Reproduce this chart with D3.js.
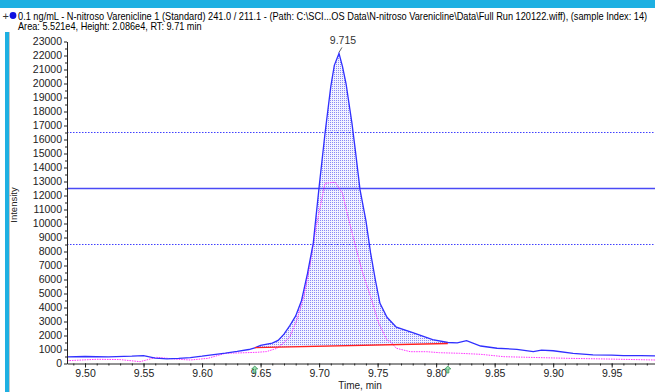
<!DOCTYPE html>
<html>
<head>
<meta charset="utf-8">
<script src="https://cdn.jsdelivr.net/npm/d3@7"></script>
<style>
  body { margin: 0; background: #fff; }
  svg text { font-family: "Liberation Sans Narrow", "Arial Narrow", "Liberation Sans", sans-serif; }
</style>
</head>
<body>
<svg id="chart" width="655" height="392"></svg>
<script>
// XIC trace (blue), second trace (pink), integration baseline (red)
var blueTime = [9.4846, 9.50, 9.52, 9.54, 9.55, 9.56, 9.57, 9.58, 9.59, 9.60, 9.61, 9.62, 9.63, 9.64, 9.645,
  9.65, 9.66, 9.665, 9.67, 9.675, 9.68, 9.685, 9.69, 9.695, 9.70, 9.705, 9.71, 9.713, 9.717, 9.72, 9.723,
  9.728, 9.731, 9.735, 9.74, 9.744, 9.748, 9.752, 9.758, 9.766, 9.78, 9.797, 9.81, 9.818, 9.826, 9.838,
  9.852, 9.869, 9.883, 9.89, 9.90, 9.917, 9.934, 9.95, 9.96, 9.975, 9.987];
var blueIntensity = [480, 500, 480, 520, 560, 380, 330, 360, 420, 520, 640, 740, 860, 1000, 1120,
  1300, 1450, 1650, 2100, 2700, 3400, 4500, 6400, 8600, 12600, 16400, 19800, 21300, 22150, 21200, 20000,
  17200, 15200, 12400, 10200, 7900, 6000, 4300, 3300, 2600, 2200, 1700, 1500, 1480, 1630, 1250,
  1090, 1010, 850, 950, 910, 730, 610, 600, 560, 560, 540];

var pinkTime = [9.4846, 9.51, 9.53, 9.547, 9.561, 9.58, 9.59, 9.605, 9.62, 9.633, 9.647, 9.655, 9.664, 9.67,
  9.675, 9.681, 9.687, 9.692, 9.697, 9.701, 9.705, 9.7137, 9.720, 9.724, 9.729, 9.7365, 9.744, 9.751,
  9.758, 9.761, 9.766, 9.778, 9.792, 9.803, 9.82, 9.838, 9.858, 9.878, 9.912, 9.946, 9.987];
var pinkIntensity = [200, 300, 280, 130, 440, 300, 250, 370, 730, 760, 800, 850, 1086, 1500,
  1900, 3107, 4771, 6914, 9536, 11200, 12870, 12950, 12157, 10729, 9057, 6679, 4771, 2871,
  1679, 1560, 1086, 843, 843, 771, 729, 657, 486, 443, 371, 321, 250];

var baselineTime = [9.645, 9.81];
var baselineIntensity = [1130, 1430];

var thresholdSolid = [12500];
var thresholdDotted = [16500, 8500];

var peakRT = 9.717, peakLabel = "9.715";
var xTickLabels = [9.50, 9.55, 9.60, 9.65, 9.70, 9.75, 9.80, 9.85, 9.90, 9.95];

var titleLine1 = "0.1 ng/mL - N-nitroso Varenicline 1 (Standard) 241.0 / 211.1 - (Path: C:\\SCI...OS Data\\N-nitroso Varenicline\\Data\\Full Run 120122.wiff), (sample Index: 14)";
var titleLine2 = "Area: 5.521e4, Height: 2.086e4, RT: 9.71 min";

var svg = d3.select("#chart");

// window frame
svg.append("rect").attr("x", 0).attr("y", 0).attr("width", 655).attr("height", 8).attr("fill", "#1eb0e2");
svg.append("rect").attr("x", 5).attr("y", 32).attr("width", 4).attr("height", 360).attr("fill", "#1eb0e2");
svg.append("line").attr("x1", 9.5).attr("x2", 9.5).attr("y1", 32).attr("y2", 392).attr("stroke", "#c8c8c8");

var x = d3.scaleLinear().domain([9.4846, 9.987]).range([67, 655]);
var y = d3.scaleLinear().domain([0, 23000]).range([363.5, 41.5]);

// header: squeeze each line horizontally to the width it has in the original
svg.append("text").attr("x", 2.5).attr("y", 19.5).attr("font-size", 11).attr("fill", "#333").text("+");
svg.append("circle").attr("cx", 13).attr("cy", 15.5).attr("r", 3.4).attr("fill", "#1010e0");

function squeezedText(str, x0, y0, width) {
  var t = svg.append("text").attr("font-size", 10).attr("fill", "#000").text(str);
  var natural = t.node().getComputedTextLength();
  var sx = Math.min(1, width / natural);
  t.attr("transform", "translate(" + x0 + "," + y0 + ") scale(" + sx + ",1)");
  return t;
}
squeezedText(titleLine1, 18, 19.5, 630);
squeezedText(titleLine2, 18, 30, 184);

// dotted fill pattern
var defs = svg.append("defs");
var pat = defs.append("pattern").attr("id", "dots").attr("patternUnits", "userSpaceOnUse")
  .attr("width", 2).attr("height", 2);
pat.append("rect").attr("width", 2).attr("height", 2).attr("fill", "#f2f2ff");
pat.append("rect").attr("width", 1).attr("height", 1).attr("fill", "#8a8af5");

function interp(ts, vs, t) {
  for (var i = 1; i < ts.length; i++) {
    if (t <= ts[i]) {
      var f = (t - ts[i - 1]) / (ts[i] - ts[i - 1]);
      return vs[i - 1] + f * (vs[i] - vs[i - 1]);
    }
  }
  return vs[vs.length - 1];
}

var blueData = blueTime.map(function(t, i) { return { t: t, v: blueIntensity[i] }; });
var pinkData = pinkTime.map(function(t, i) { return { t: t, v: pinkIntensity[i] }; });

// integrated area between trace and baseline
var t0 = baselineTime[0], t1 = baselineTime[1];
var areaData = [{ t: t0, v: interp(blueTime, blueIntensity, t0) }]
  .concat(blueData.filter(function(d) { return d.t > t0 && d.t < t1; }))
  .concat([{ t: t1, v: interp(blueTime, blueIntensity, t1) }]);

svg.append("path")
  .datum(areaData)
  .attr("fill", "url(#dots)")
  .attr("d", d3.area()
    .x(function(d) { return x(d.t); })
    .y0(function(d) { return y(interp(baselineTime, baselineIntensity, d.t)); })
    .y1(function(d) { return y(d.v); }));

// threshold lines
svg.selectAll(".thr-solid").data(thresholdSolid).enter().append("line")
  .attr("x1", 67).attr("x2", 655)
  .attr("y1", function(d) { return y(d); }).attr("y2", function(d) { return y(d); })
  .attr("stroke", "#4a4af5").attr("stroke-width", 1.3);
svg.selectAll(".thr-dot").data(thresholdDotted).enter().append("line")
  .attr("x1", 67).attr("x2", 655)
  .attr("y1", function(d) { return y(d); }).attr("y2", function(d) { return y(d); })
  .attr("stroke", "#4040ff").attr("stroke-width", 1.2).attr("stroke-dasharray", "1.5 1.5");

// traces
var line = d3.line().x(function(d) { return x(d.t); }).y(function(d) { return y(d.v); });
svg.append("path").datum(pinkData).attr("d", line)
  .attr("fill", "none").attr("stroke", "#ff33ff").attr("stroke-width", 1).attr("stroke-dasharray", "1.5 1");
svg.append("path").datum(blueData).attr("d", line)
  .attr("fill", "none").attr("stroke", "#3030ff").attr("stroke-width", 1.3);

// baseline
svg.append("line")
  .attr("x1", x(baselineTime[0])).attr("x2", x(baselineTime[1]))
  .attr("y1", y(baselineIntensity[0])).attr("y2", y(baselineIntensity[1]))
  .attr("stroke", "#ff2020").attr("stroke-width", 1.3);

// axes
var yAxis = svg.append("g").attr("transform", "translate(67,0)")
  .call(d3.axisLeft(y).tickValues(d3.range(0, 23001, 1000)).tickSize(3).tickSizeOuter(0).tickFormat(d3.format("d")));
svg.append("g").attr("transform", "translate(67,0)")
  .call(d3.axisLeft(y).tickValues(d3.range(500, 23000, 1000)).tickSize(2).tickSizeOuter(0).tickFormat(""))
  .select(".domain").remove();

var xAxis = svg.append("g").attr("transform", "translate(0,363.5)")
  .call(d3.axisBottom(x).tickValues(xTickLabels).tickSize(4).tickSizeOuter(0).tickFormat(d3.format(".2f")));
svg.append("g").attr("transform", "translate(0,363.5)")
  .call(d3.axisBottom(x).tickValues(d3.range(9.49, 9.99, 0.01)).tickSize(2).tickSizeOuter(0).tickFormat(""))
  .select(".domain").remove();

svg.selectAll(".domain").attr("stroke", "#222");
svg.selectAll(".tick line").attr("stroke", "#222");
yAxis.selectAll("text").attr("font-size", 10.5).attr("fill", "#222").attr("x", -5);
xAxis.selectAll("text").attr("font-size", 10.5).attr("fill", "#222").attr("y", 6);

// axis titles
svg.append("text").attr("transform", "translate(17,205) rotate(-90)").attr("text-anchor", "middle")
  .attr("font-size", 9.5).attr("fill", "#222").text("Intensity");
svg.append("text").attr("x", 360).attr("y", 389).attr("text-anchor", "middle")
  .attr("font-size", 10).attr("fill", "#222").text("Time, min");

// peak label
svg.append("line").attr("x1", x(peakRT) + 3).attr("y1", y(22150) - 6).attr("x2", x(peakRT)).attr("y2", y(22150) - 1)
  .attr("stroke", "#666");
svg.append("text").attr("x", x(peakRT) + 4).attr("y", 44).attr("text-anchor", "middle")
  .attr("font-size", 10.5).attr("fill", "#333").text(peakLabel);

// start/end markers
svg.selectAll(".marker").data(baselineTime).enter().append("path")
  .attr("transform", function(d) { return "translate(" + x(d) + ",366)"; })
  .attr("d", "M0,0 L-3,3 L-1,3 L-1,7 L1,7 L1,3 L3,3 Z")
  .attr("fill", "#9be0b0").attr("stroke", "#2a8a4a").attr("stroke-width", 0.7);
</script>
</body>
</html>
